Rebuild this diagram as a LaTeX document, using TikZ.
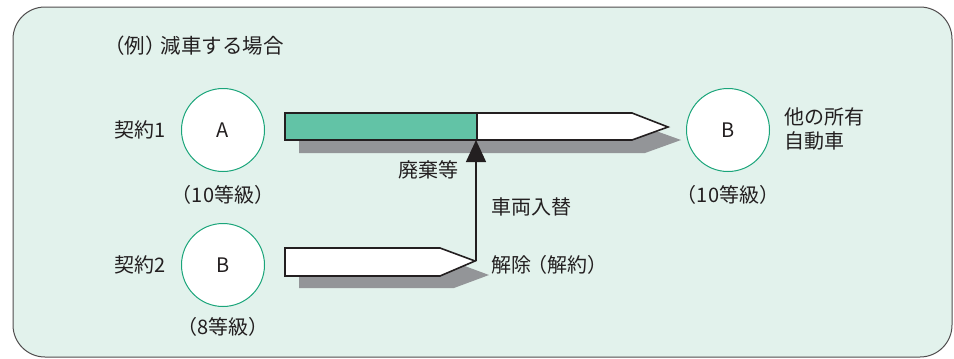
\documentclass[tikz,border=0pt]{standalone}
\usepackage{fontspec}
\setmainfont{Noto Sans CJK JP}
\usetikzlibrary{arrows.meta}
\definecolor{bgmint}{HTML}{E2F2EC}
\definecolor{bargreen}{HTML}{62C3A6}
\definecolor{ringgreen}{HTML}{1AA57A}
\definecolor{shadowgray}{HTML}{939598}
\definecolor{textgray}{HTML}{231F20}
\tikzset{
  lbl/.style={font=\fontsize{20}{24}\selectfont, text=textgray, inner sep=0pt},
  car/.style={circle, draw=ringgreen, line width=1pt, fill=white, minimum size=83pt, inner sep=0pt, font=\fontsize{20}{24}\selectfont, text=textgray},
  barline/.style={draw=textgray, line width=1.6pt, line join=miter},
  shadowfill/.style={fill=shadowgray, draw=none},
}
\begin{document}
\begin{tikzpicture}[x=1pt,y=-1pt]
\useasboundingbox (0,0) rectangle (954,359);
% outer panel
\draw[draw=textgray!80, line width=1pt, fill=bgmint, rounded corners=32pt] (13,7) rectangle (952,357);

% title
\node[lbl, anchor=west, font=\fontsize{20.5}{24}\selectfont] (title) at (104,46) {（例）\kern-0.25em 減車する場合};

% circles
\node[car] (A) at (223,130) {A};
\node[car] (B1) at (728,130) {B};
\node[car] (B2) at (223,265) {B};

% left labels
\node[lbl, anchor=east] (k1) at (166,130) {契約1};
\node[lbl, anchor=east] (k2) at (166,265) {契約2};
\node[lbl] (g10a) at (223,195) {（10等級）};
\node[lbl] (g8) at (223,327) {（8等級）};
\node[lbl] (g10b) at (728,195) {（10等級）};

% right labels
\node[lbl, anchor=west, align=left] (other) at (784,129) {他の所有\\自動車};

% bar 1 shadow
\fill[shadowfill] (299,127) -- (645,127) -- (681,140) -- (645,153) -- (299,153) -- cycle;
% bar 1
\fill[bargreen] (285,113) rectangle (477,140);
\fill[white] (477,113) -- (632,113) -- (668,127) -- (632,140) -- (477,140) -- cycle;
\draw[barline] (285,113) -- (632,113) -- (668,127) -- (632,140) -- (285,140) -- cycle;
\draw[barline] (477,113) -- (477,140);
\coordinate (b1in) at (477,140);

% bar 2 shadow
\fill[shadowfill] (299,262) -- (454,262) -- (489,275) -- (454,288) -- (299,288) -- cycle;
% bar 2
\draw[barline, fill=white] (285,248) -- (440,248) -- (475,261) -- (440,276) -- (285,276) -- cycle;
\coordinate (b2tip) at (476,261);

% arrow
\draw[line width=1.4pt, draw=textgray, -{Triangle[length=22pt,width=20pt]}] (b2tip) -- (b2tip |- b1in);

% middle labels
\node[lbl, anchor=east] (haiki) at (459,170) {廃棄等};
\node[lbl, anchor=west] (irekae) at (491,207) {車両入替};
\node[lbl, anchor=west] (kaijo) at (491,265) {解除\kern-0.2em（解約）};
\end{tikzpicture}
\end{document}
